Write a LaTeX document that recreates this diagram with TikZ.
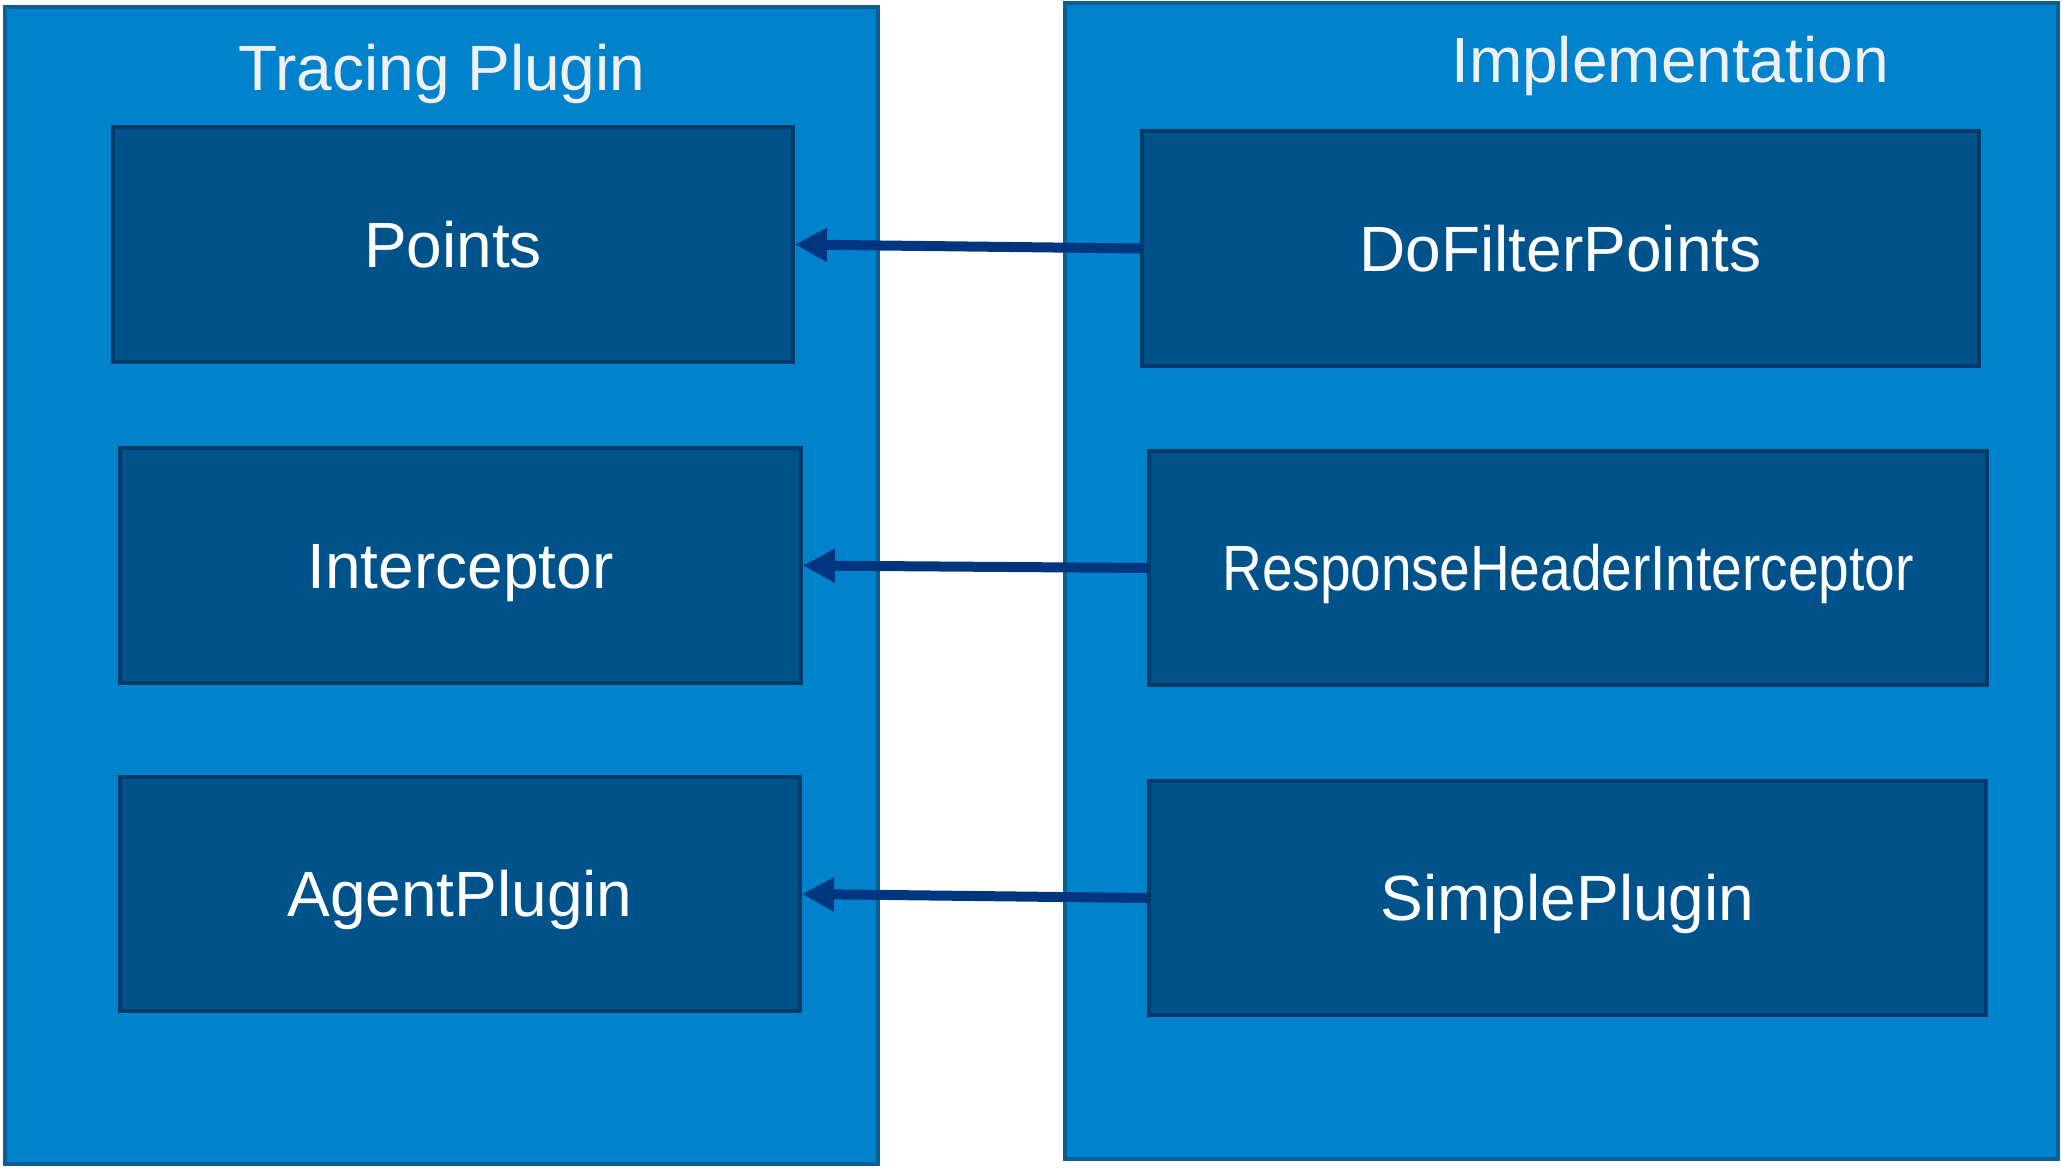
\documentclass[tikz,border=0pt]{standalone}
\usepackage{graphicx}
\usepackage{fontspec}
\setmainfont{Liberation Sans}
\usetikzlibrary{arrows.meta}
\definecolor{outerfill}{RGB}{0,131,204}
\definecolor{outerdraw}{RGB}{11,95,150}
\definecolor{innerfill}{RGB}{0,83,138}
\definecolor{innerdraw}{RGB}{0,58,104}
\definecolor{arrowcol}{RGB}{0,53,128}
\definecolor{titlecol}{RGB}{240,240,240}
\begin{document}
\begin{tikzpicture}[x=0.5pt,y=-0.5pt,
  group/.style={draw=outerdraw, fill=outerfill, line width=2pt, inner sep=0pt},
  item/.style={draw=innerdraw, fill=innerfill, line width=2pt, inner sep=0pt,
    text=white, font=\fontsize{32}{32}\selectfont, text height=22.9pt, text depth=0pt},
  grouptitle/.style={text=titlecol, font=\fontsize{32}{32}\selectfont, inner sep=0pt},
  link/.style={draw=arrowcol, line width=5pt, -{Triangle[length=16pt,width=16pt]}}]
\useasboundingbox (0,0) rectangle (2062,1168);
\node[group, minimum width=436.5pt, minimum height=578.5pt] (left) at (441.5,585.5) {};
\node[group, minimum width=496.5pt, minimum height=578pt] (right) at (1561.5,581) {};
\node[grouptitle, anchor=base] (lefttitle) at (442,90) {Tracing Plugin};
\node[grouptitle, anchor=base] (righttitle) at (1670,82) {Implementation};
\node[item, minimum width=340pt, minimum height=117.5pt] (points) at (453,244.5) {Points};
\node[item, minimum width=340.5pt, minimum height=117.5pt] (interceptor) at (460.5,565.5) {Interceptor};
\node[item, minimum width=340pt, minimum height=117pt] (agent) at (460,894) {AgentPlugin};
\node[item, minimum width=418.5pt, minimum height=117.5pt] (dofilter) at (1560.5,248.5) {DoFilterPoints};
\node[item, minimum width=419pt, minimum height=117pt] (rhi) at (1568,568) {\scalebox{0.86}[1]{ResponseHeaderInterceptor}};
\node[item, minimum width=418.5pt, minimum height=117pt] (simple) at (1567.5,898) {SimplePlugin};
\draw[link] (dofilter.west) -- (points.east);
\draw[link] (rhi.west) -- (interceptor.east);
\draw[link] (simple.west) -- (agent.east);
\end{tikzpicture}
\end{document}
